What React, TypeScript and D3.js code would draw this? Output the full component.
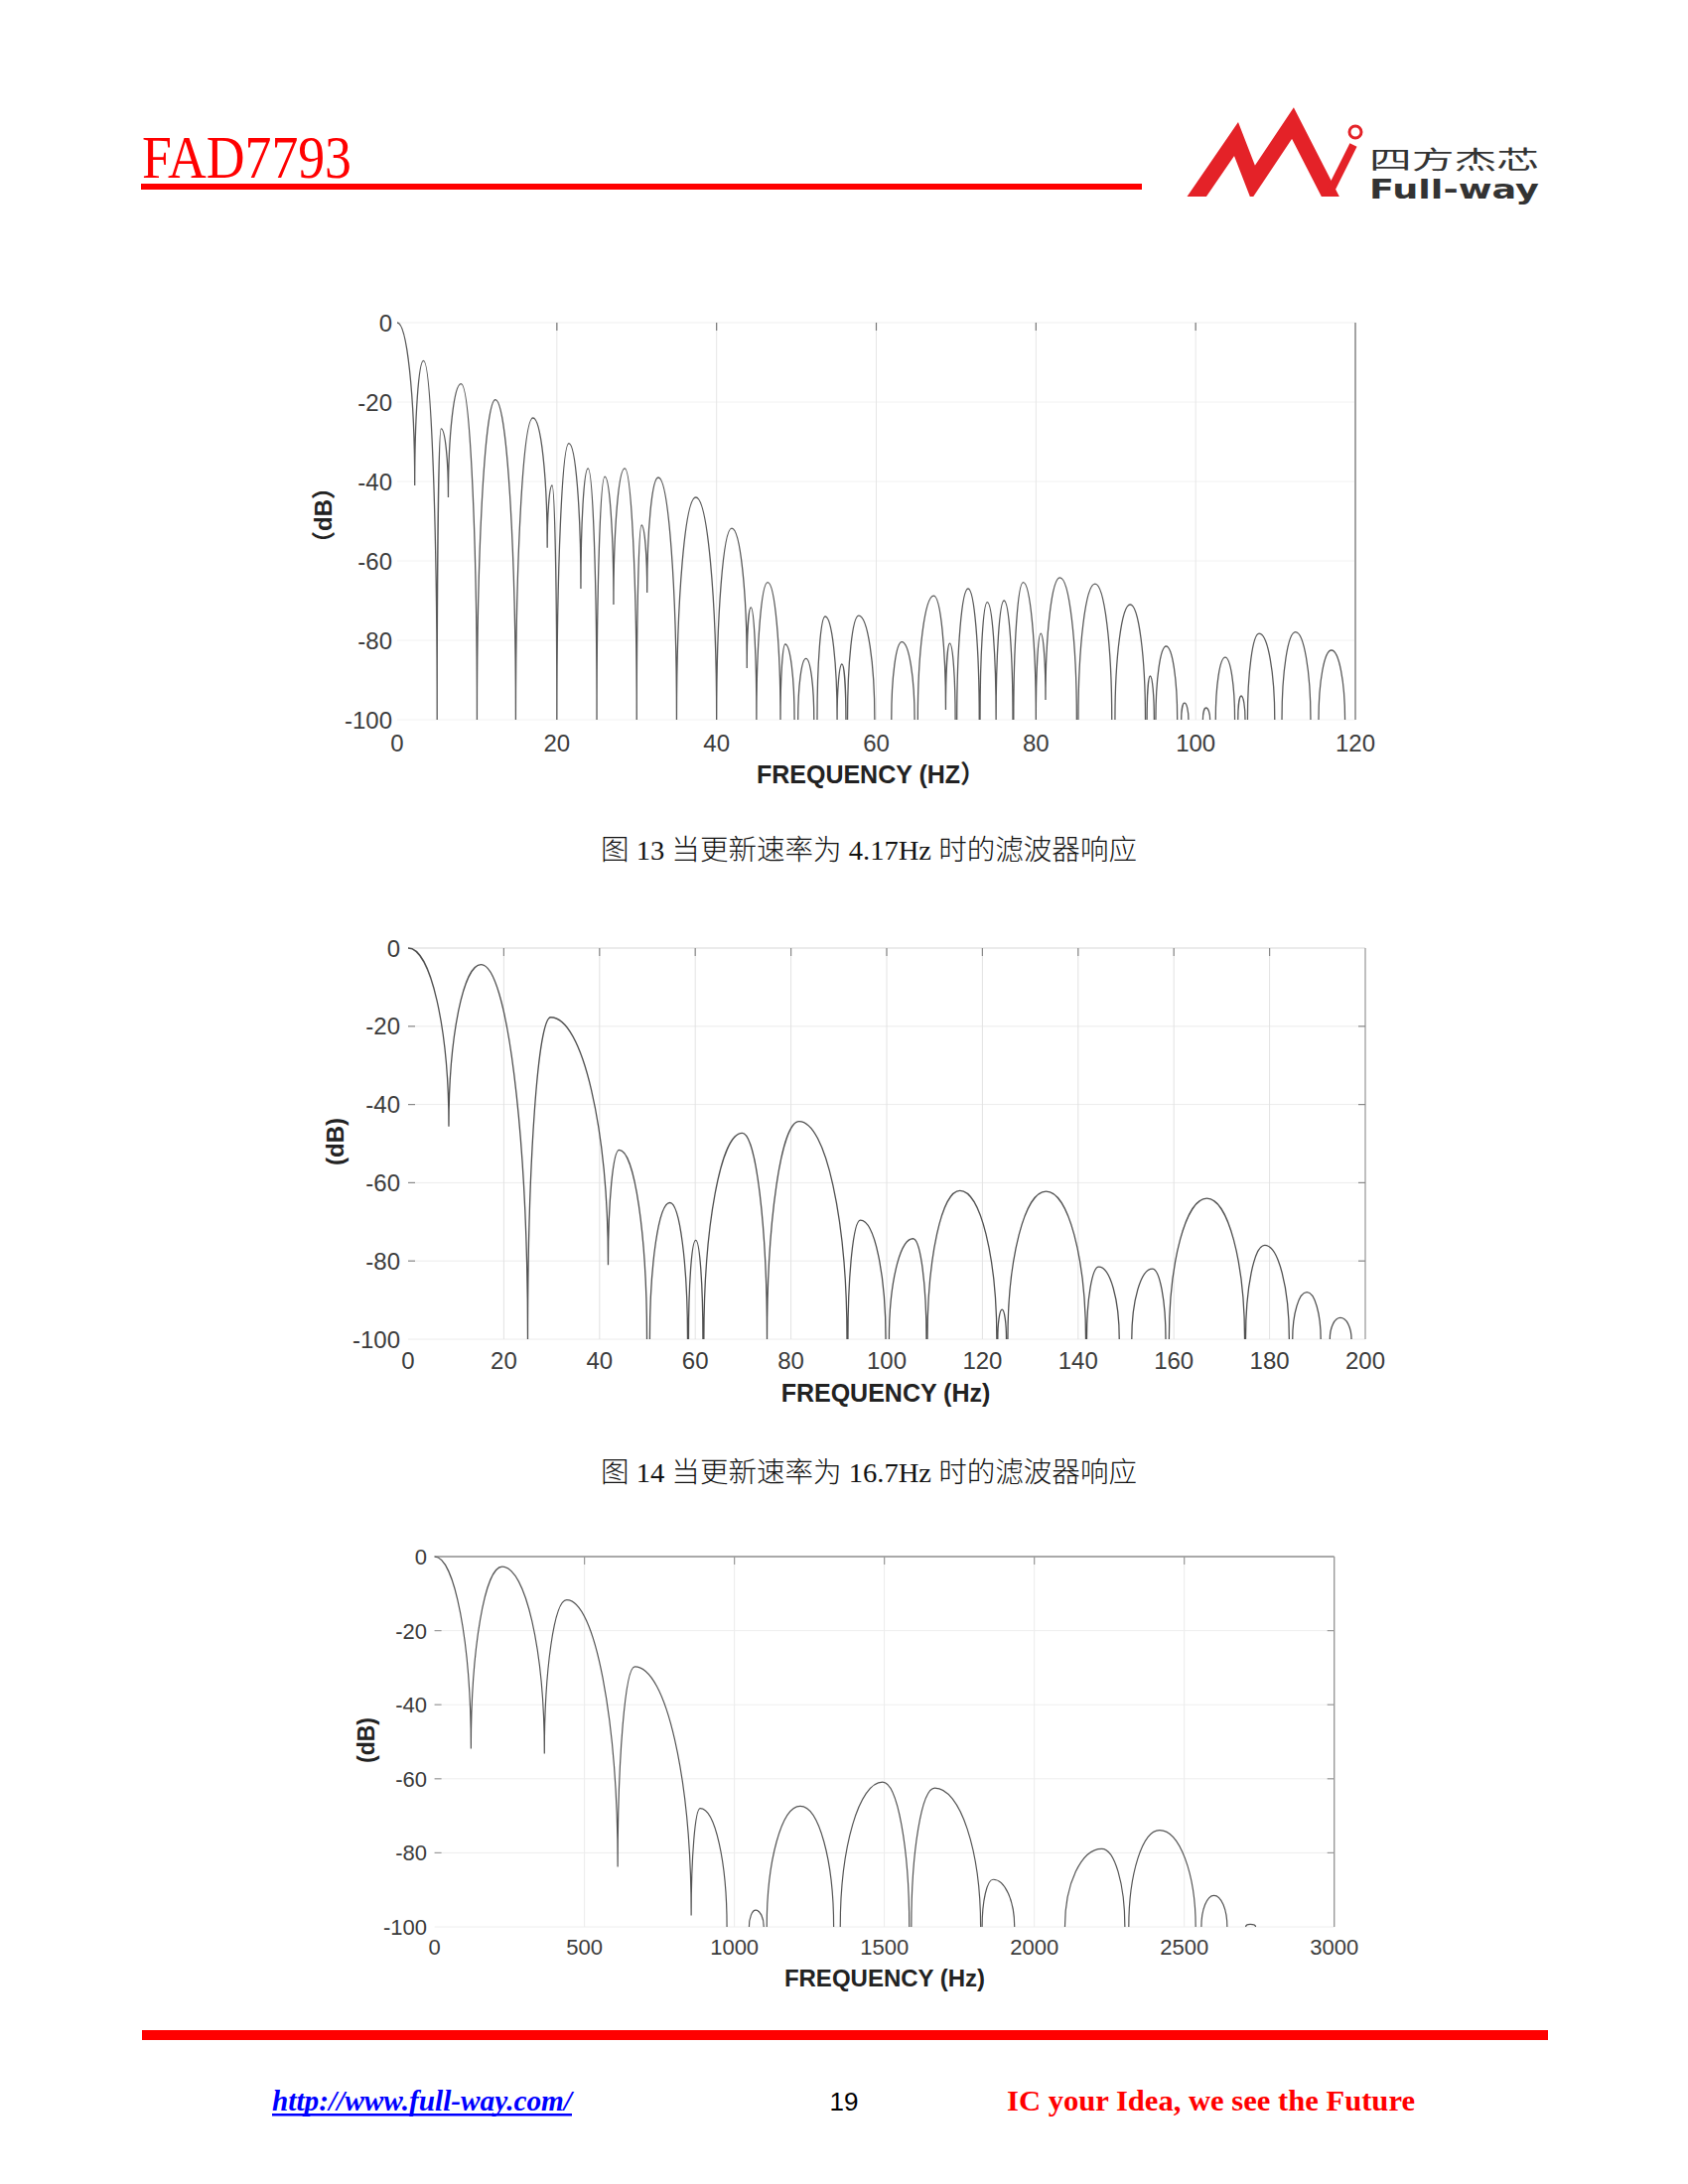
import React from 'react';
import * as d3 from 'd3';

// [leftHz, leftDb, peakHz, peakDb, rightHz, rightDb]
type Lobe = [number, number, number, number, number, number];

const yTicks = [0, -20, -40, -60, -80, -100];
const c13XTicks = [0, 20, 40, 60, 80, 100, 120];
const c14XTicks = [0, 20, 40, 60, 80, 100, 120, 140, 160, 180, 200];
const c15XTicks = [0, 500, 1000, 1500, 2000, 2500, 3000];

const c13Lobes: Lobe[] = [
  [0, 0, 0, 0, 2.2, -41],
  [2.2, -41, 3.3, -9.6, 5, -100],
  [5, -100, 5.5, -26.7, 6.4, -44],
  [6.4, -44, 8, -15.4, 10, -100],
  [10, -100, 12.3, -19.4, 14.85, -100],
  [14.85, -100, 17, -24, 18.8, -56.7],
  [18.8, -56.7, 19.4, -41, 20, -100],
  [20, -100, 21.5, -30.4, 23, -67],
  [23, -67, 23.9, -36.7, 25, -100],
  [25, -100, 26, -38.8, 27.1, -71],
  [27.1, -71, 28.5, -36.7, 30, -100],
  [30, -100, 30.6, -51, 31.3, -68],
  [31.3, -68, 32.7, -39, 35, -100],
  [35, -100, 37.4, -44, 40, -100],
  [40, -100, 41.9, -51.8, 43.8, -87],
  [43.8, -87, 44.3, -71.7, 45, -100],
  [45, -100, 46.4, -65.4, 48, -100],
  [48, -100, 48.6, -81, 49.75, -100],
  [50.2, -100, 51.2, -84.6, 52.2, -100],
  [52.6, -100, 53.6, -74, 55.1, -100],
  [55.1, -100, 55.7, -86, 56.2, -100],
  [56.4, -100, 57.8, -73.8, 59.8, -100],
  [61.9, -100, 63.2, -80.4, 64.8, -100],
  [65.2, -100, 67.2, -68.8, 68.7, -97.5],
  [68.7, -97.5, 69.2, -80.8, 69.9, -100],
  [70.1, -100, 71.5, -67, 72.9, -100],
  [73, -100, 73.9, -70.4, 75, -100],
  [75, -100, 76, -70, 77.1, -100],
  [77.2, -100, 78.4, -65.4, 80, -100],
  [80, -100, 80.6, -78.3, 81.2, -95],
  [81.2, -95, 83, -64.2, 85.1, -100],
  [85.3, -100, 87.4, -65.8, 89.5, -100],
  [89.9, -100, 91.8, -71, 93.7, -100],
  [93.9, -100, 94.3, -89, 94.8, -100],
  [95, -100, 96.3, -81.5, 97.7, -100],
  [98.2, -100, 98.6, -95.8, 99.1, -100],
  [100.9, -100, 101.3, -97, 101.8, -100],
  [102.5, -100, 103.7, -84.3, 104.9, -100],
  [105.3, -100, 105.7, -94, 106.2, -100],
  [106.5, -100, 107.95, -78.3, 109.9, -100],
  [110.8, -100, 112.5, -77.9, 114.4, -100],
  [115.4, -100, 117, -82.5, 118.7, -100],
];

const c14Lobes: Lobe[] = [
  [0, 0, 0, 0, 8.5, -45.6],
  [8.5, -45.6, 15.25, -4.2, 25, -100],
  [25, -100, 29.8, -17.7, 41.8, -81],
  [41.8, -81, 44.1, -51.6, 49.9, -100],
  [50.5, -100, 54.7, -65.1, 58.4, -100],
  [58.6, -100, 60.1, -74.7, 61.6, -100],
  [61.8, -100, 69.8, -47.3, 75, -100],
  [75, -100, 81.7, -44.3, 91.7, -100],
  [91.9, -100, 94.5, -69.6, 99.8, -100],
  [100.5, -100, 105.5, -74.3, 108.3, -100],
  [108.5, -100, 115.3, -62, 123, -100],
  [123.2, -100, 124.1, -92.4, 125, -100],
  [125.3, -100, 133.3, -62.2, 141.6, -100],
  [141.8, -100, 144.3, -81.5, 148.6, -100],
  [151.2, -100, 155.5, -82, 158.3, -100],
  [159, -100, 166.9, -64, 174.8, -100],
  [175, -100, 179, -76, 184.1, -100],
  [184.8, -100, 187.8, -88, 190.7, -100],
  [192.6, -100, 194.8, -94.5, 197.1, -100],
];

const c15Lobes: Lobe[] = [
  [0, 0, 0, 0, 121.7, -51.9],
  [121.7, -51.9, 225.5, -2.7, 366.5, -53.2],
  [366.5, -53.2, 440.7, -11.7, 611, -83.8],
  [611, -83.8, 667.7, -29.7, 856, -96.9],
  [856, -96.9, 885.8, -68, 975, -100],
  [1049, -100, 1071, -95.5, 1098, -100],
  [1108, -100, 1219.6, -67.4, 1331, -100],
  [1353, -100, 1494, -60.9, 1583, -100],
  [1590, -100, 1668, -62.5, 1821, -100],
  [1826, -100, 1862.6, -87.2, 1934, -100],
  [2102, -100, 2225, -78.9, 2302, -100],
  [2315, -100, 2417.6, -73.9, 2538, -100],
  [2557, -100, 2599, -91.5, 2643, -100],
  [2705, -100, 2720, -99.3, 2738, -100],
];

const caption13 = '图 13 当更新速率为 4.17Hz 时的滤波器响应';
const caption14 = '图 14 当更新速率为 16.7Hz 时的滤波器响应';

const SANS = "'Liberation Sans', Arial, 'DejaVu Sans', sans-serif";
const SERIF = "'Liberation Serif', 'Times New Roman', 'Noto Sans CJK SC', serif";

function lobesPath(lobes: Lobe[], x: d3.ScaleLinear<number, number>, y: d3.ScaleLinear<number, number>) {
  const p = d3.path();
  const K = 0.5523;
  lobes.forEach(([xl, dl, xp, dp, xr, dr]) => {
    const Lx = x(xl), Ly = y(dl), Px = x(xp), Py = y(dp), Rx = x(xr), Ry = y(dr);
    p.moveTo(Lx, Ly);
    if (xp > xl) p.bezierCurveTo(Lx, Ly + (Py - Ly) * K, Px - (Px - Lx) * K, Py, Px, Py);
    p.bezierCurveTo(Px + (Rx - Px) * K, Py, Rx, Ry + (Py - Ry) * K, Rx, Ry);
  });
  return p.toString();
}

type ChartProps = {
  id: string;
  lobes: Lobe[];
  xTicks: number[];
  left: number; right: number; top: number; bottom: number;
  tickFs: number; titleFs: number;
  yLabelX: number; xLabelY: number;
  xTitle: string; xTitleX: number; xTitleY: number;
  yTitle: string; yTitleX: number; yTitleY: number;
  vGrid: string; hGrid: string; topLine: string; rightLine: string; rightW: number;
  tickColor: string; sideTicks: boolean;
  curveColor: string; curveW: number;
};

function Chart(pr: ChartProps) {
  const xMax = pr.xTicks[pr.xTicks.length - 1];
  const x = d3.scaleLinear().domain([0, xMax]).range([pr.left, pr.right]);
  const y = d3.scaleLinear().domain([0, -100]).range([pr.top, pr.bottom]);
  const inner = pr.xTicks.slice(1, -1);
  const innerY = yTicks.slice(1, -1);
  return (
    <g>
      <defs>
        <clipPath id={pr.id}>
          <rect x={pr.left - 2} y={pr.top - 2} width={pr.right - pr.left + 4} height={pr.bottom - pr.top + 2} />
        </clipPath>
      </defs>
      {innerY.map((t) => (
        <line key={'h' + t} x1={pr.left} x2={pr.right} y1={y(t)} y2={y(t)} stroke={pr.hGrid} strokeWidth={1} />
      ))}
      <line x1={pr.left} x2={pr.right} y1={y(-100)} y2={y(-100)} stroke={pr.hGrid} strokeWidth={1} />
      {inner.map((t) => (
        <line key={'v' + t} x1={x(t)} x2={x(t)} y1={pr.top} y2={pr.bottom} stroke={pr.vGrid} strokeWidth={1} />
      ))}
      <line x1={pr.left} x2={pr.right} y1={pr.top} y2={pr.top} stroke={pr.topLine} strokeWidth={1.3} />
      <line x1={pr.right} x2={pr.right} y1={pr.top} y2={pr.bottom} stroke={pr.rightLine} strokeWidth={pr.rightW} />
      {inner.map((t) => (
        <line key={'tt' + t} x1={x(t)} x2={x(t)} y1={pr.top} y2={pr.top + 8} stroke={pr.tickColor} strokeWidth={1.2} />
      ))}
      {pr.sideTicks && innerY.map((t) => (
        <g key={'st' + t}>
          <line x1={pr.left} x2={pr.left + 7} y1={y(t)} y2={y(t)} stroke={pr.tickColor} strokeWidth={1.2} />
          <line x1={pr.right - 7} x2={pr.right} y1={y(t)} y2={y(t)} stroke={pr.tickColor} strokeWidth={1.2} />
        </g>
      ))}
      <path d={lobesPath(pr.lobes, x, y)} fill="none" stroke={pr.curveColor} strokeWidth={pr.curveW} clipPath={`url(#${pr.id})`} />
      {yTicks.map((t) => (
        <text key={'yl' + t} x={pr.yLabelX} y={y(t)} dy="0.36em" textAnchor="end" fontFamily={SANS} fontSize={pr.tickFs} fill="#3c3c3c">{t}</text>
      ))}
      {pr.xTicks.map((t) => (
        <text key={'xl' + t} x={x(t)} y={pr.xLabelY} dy="0.36em" textAnchor="middle" fontFamily={SANS} fontSize={pr.tickFs} fill="#3c3c3c">{t}</text>
      ))}
      <text x={pr.xTitleX} y={pr.xTitleY} dy="0.36em" textAnchor="middle" fontFamily={SANS + ", 'Noto Sans CJK SC'"} fontWeight="bold" fontSize={pr.titleFs} fill="#222">{pr.xTitle}</text>
      <text transform={`translate(${pr.yTitleX},${pr.yTitleY}) rotate(-90)`} dy="0.36em" textAnchor="middle" fontFamily={SANS + ", 'Noto Sans CJK SC'"} fontWeight="bold" fontSize={pr.titleFs - 1} fill="#222">{pr.yTitle}</text>
    </g>
  );
}

export default function App() {
  return (
    <svg width={1700} height={2200} style={{ position: 'absolute', left: 0, top: 0, background: '#fff' }}>
      <rect x={0} y={0} width={1700} height={2200} fill="#fff" />
      {/* Header */}
      <text x={143} y={179} fontFamily={SERIF} fontSize={62} fill="#ff0000" textLength={211} lengthAdjust="spacingAndGlyphs">FAD7793</text>
      <rect x={142} y={185} width={1008} height={6} fill="#ff0000" />
      {/* Logo */}
      <defs>
        <clipPath id="logoClip">
          <rect x={1180} y={95} width={200} height={103} />
        </clipPath>
      </defs>
      <g clipPath="url(#logoClip)">
        <polyline points="1197,210 1245,140 1262,184 1302,124 1346,210" fill="none" stroke="#e42228" strokeWidth={16} strokeLinejoin="miter" strokeMiterlimit={8} />
        <polyline points="1333,206 1363,146" fill="none" stroke="#e42228" strokeWidth={8} />
      </g>
      <circle cx={1365} cy={133} r={6} fill="none" stroke="#e42228" strokeWidth={3} />
      <text x={1379} y={170} fontFamily="'Noto Sans CJK SC', sans-serif" fontSize={25} fill="#333" textLength={171} lengthAdjust="spacingAndGlyphs">四方杰芯</text>
      <text x={1379} y={200} fontFamily="'DejaVu Sans', sans-serif" fontWeight="bold" fontSize={27} fill="#333" textLength={171} lengthAdjust="spacingAndGlyphs">Full-way</text>

      <Chart id="c13" lobes={c13Lobes} xTicks={c13XTicks}
        left={400} right={1365} top={325} bottom={725}
        tickFs={24} titleFs={25} yLabelX={395} xLabelY={748}
        xTitle="FREQUENCY (HZ）" xTitleX={877} xTitleY={780}
        yTitle="（dB）" yTitleX={325} yTitleY={519}
        vGrid="#e6e6e6" hGrid="#f2f2f2" topLine="#f4f4f4" rightLine="#999" rightW={1.8}
        tickColor="#777" sideTicks={false} curveColor="#5a5a5a" curveW={1.3} />
      <text x={875} y={856} dy="0.36em" textAnchor="middle" fontFamily={SERIF} fontWeight={300} fontSize={28} fill="#111" textLength={540} lengthAdjust="spacingAndGlyphs">{caption13}</text>

      <Chart id="c14" lobes={c14Lobes} xTicks={c14XTicks}
        left={411} right={1375} top={955} bottom={1349}
        tickFs={24} titleFs={25} yLabelX={403} xLabelY={1370}
        xTitle="FREQUENCY (Hz)" xTitleX={892} xTitleY={1403}
        yTitle="(dB)" yTitleX={337} yTitleY={1150}
        vGrid="#e2e2e2" hGrid="#ececec" topLine="#e4e4e4" rightLine="#aaa" rightW={1.5}
        tickColor="#888" sideTicks={true} curveColor="#505050" curveW={1.3} />
      <text x={875} y={1483} dy="0.36em" textAnchor="middle" fontFamily={SERIF} fontWeight={300} fontSize={28} fill="#111" textLength={540} lengthAdjust="spacingAndGlyphs">{caption14}</text>

      <Chart id="c15" lobes={c15Lobes} xTicks={c15XTicks}
        left={437.6} right={1343.7} top={1568} bottom={1941}
        tickFs={22} titleFs={24} yLabelX={430} xLabelY={1961}
        xTitle="FREQUENCY (Hz)" xTitleX={891} xTitleY={1992}
        yTitle="(dB)" yTitleX={369} yTitleY={1753}
        vGrid="#ececec" hGrid="#eeeeee" topLine="#8c8c8c" rightLine="#999" rightW={1.4}
        tickColor="#999" sideTicks={true} curveColor="#555" curveW={1.2} />

      {/* Footer */}
      <rect x={143} y={2045} width={1416} height={10} fill="#ff0000" />
      <text x={274} y={2126} fontFamily={SERIF} fontWeight="bold" fontStyle="italic" fontSize={30} fill="#0000ff" textLength={302} lengthAdjust="spacingAndGlyphs">http://www.full-way.com/</text>
      <rect x={274} y={2129} width={302} height={2.5} fill="#0000ff" />
      <text x={850} y={2126} textAnchor="middle" fontFamily={SANS} fontSize={26} fill="#000">19</text>
      <text x={1014} y={2126} fontFamily={SERIF} fontWeight="bold" fontSize={30} fill="#ff0000" textLength={411} lengthAdjust="spacingAndGlyphs">IC your Idea, we see the Future</text>
    </svg>
  );
}
